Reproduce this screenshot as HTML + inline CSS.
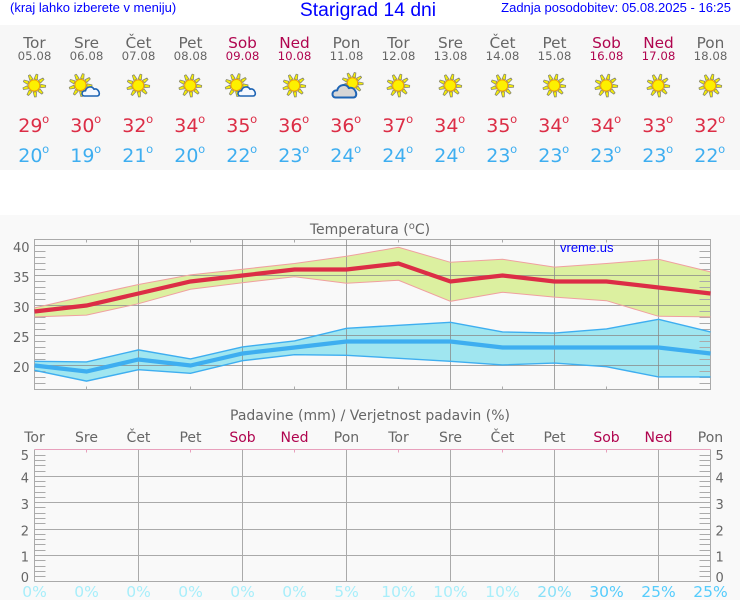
<!DOCTYPE html>
<html lang="sl">
<head>
<meta charset="utf-8">
<title>Starigrad 14 dni</title>
<style>
html,body{margin:0;padding:0;background:#fff;width:740px;height:600px;overflow:hidden}
svg{display:block}
.h{font-family:"Liberation Sans",sans-serif;fill:#0000ff}
.d{font-family:"DejaVu Sans",sans-serif}
</style>
</head>
<body>
<svg id="chart" xmlns="http://www.w3.org/2000/svg" width="740" height="600" viewBox="0 0 740 600">
  <rect x="0" y="25" width="740" height="145" fill="#f7f7f7"/>
  <rect x="0" y="215" width="740" height="385" fill="#f9f9f9"/>
  <text class="h" x="10" y="12" font-size="13">(kraj lahko izberete v meniju)</text>
  <text class="h" x="368" y="16" font-size="19.3" text-anchor="middle">Starigrad 14 dni</text>
  <text class="h" x="731" y="12" font-size="13" text-anchor="end">Zadnja posodobitev: 05.08.2025 - 16:25</text>
  <text class="d" x="370" y="234" font-size="14" fill="#666" text-anchor="middle">Temperatura (<tspan font-size="10" dy="-5">o</tspan><tspan dy="5">C)</tspan></text>
  <text class="d" x="370" y="420" font-size="14" fill="#666" text-anchor="middle">Padavine (mm) / Verjetnost padavin (%)</text>
  <g id="forecast"></g>
  <g id="temp"></g>
  <text class="h" x="560" y="252" font-size="13">vreme.us</text>
  <g id="rain"></g>
</svg>
<script>
const days = ['Tor','Sre','Čet','Pet','Sob','Ned','Pon','Tor','Sre','Čet','Pet','Sob','Ned','Pon'];
const dates = ['05.08','06.08','07.08','08.08','09.08','10.08','11.08','12.08','13.08','14.08','15.08','16.08','17.08','18.08'];
const icons = ['sun','suncloud','sun','sun','suncloud','sun','cloudsun','sun','sun','sun','sun','sun','sun','sun'];
const maxTemp = [29,30,32,34,35,36,36,37,34,35,34,34,33,32];
const minTemp = [20,19,21,20,22,23,24,24,24,23,23,23,23,22];
const maxUpper = [29.6,31.6,33.5,35.1,36.05,37,38.2,39.7,37.2,37.7,36.4,37,37.7,35.6];
const maxLower = [28.1,28.4,30.3,32.7,33.8,34.8,33.7,34.2,30.7,32.2,31.4,30.8,28.2,28.1];
const minUpper = [20.7,20.6,22.6,21.1,23.1,24.1,26.2,26.7,27.2,25.6,25.4,26.1,27.7,25.6];
const minLower = [19.2,17.4,19.3,18.7,20.8,21.8,21.7,21.2,20.7,20.1,20.4,19.8,18.1,18.1];
const tempTicks = [20,25,30,35,40];
const rainTicks = [0,1,2,3,4,5];
const rainAmount = [0,0,0,0,0,0,0,0,0,0,0,0,0,0];
const rainProb = [0,0,0,0,0,0,5,10,10,10,20,30,25,25];

const NS = 'http://www.w3.org/2000/svg';
const GRID = '#aaaaaa';
function xAt(i){ return 34.5 + 52 * i; }
function yTemp(v){ return 365.5 - (v - 20) * 6; }
function yRain(v){ return Math.round(581.4 - 26.4 * v) + 0.5; }
function isWeekend(i){ return days[i] === 'Sob' || days[i] === 'Ned'; }
function mk(parent, tag, attrs, txt){
  const el = document.createElementNS(NS, tag);
  for (const k in attrs) el.setAttribute(k, attrs[k]);
  if (txt !== undefined) el.textContent = txt;
  parent.appendChild(el);
  return el;
}
function pts(vals, yf){ return vals.map((v, i) => xAt(i) + ',' + yf(v)).join(' '); }

function drawSun(g, cx, cy, r){
  for (let k = 0; k < 9; k++) {
    const a = -Math.PI / 2 + (k + 0.35) * 2 * Math.PI / 9;
    const c = Math.cos(a), s = Math.sin(a);
    const w1 = r * 0.3, w2 = r * 0.16, r1 = r * 1.15, r2 = r * 2.05;
    const p = [[cx + c*r1 - s*w1, cy + s*r1 + c*w1],[cx + c*r2 - s*w2, cy + s*r2 + c*w2],[cx + c*r2 + s*w2, cy + s*r2 - c*w2],[cx + c*r1 + s*w1, cy + s*r1 - c*w1]];
    const ray = mk(g, 'polygon', {points: p.map(q => q.join(',')).join(' '), fill:'#f8f000', stroke:'#8a8a70', 'stroke-width':0.8, 'stroke-linejoin':'round'});
    
    
  }
  const disc = mk(g, 'circle', {cx, cy, r, fill:'#fdf000', stroke:'#f0a000', 'stroke-width':1});
  
  
}
function drawCloud(g, x, y, s, fill, sw){
  const d = `M${x-9*s},${y+5*s} C${x-13*s},${y+5*s} ${x-13*s},${y-2*s} ${x-7.5*s},${y-1.5*s} C${x-6.5*s},${y-7*s} ${x+1*s},${y-8*s} ${x+3*s},${y-3.5*s} C${x+9*s},${y-6*s} ${x+12.5*s},${y+5*s} ${x+7*s},${y+5*s} Z`;
  const c = mk(g, 'path', {d, fill, stroke:'#1e64b4', 'stroke-width':sw, 'stroke-linejoin':'round'});
  
  
}

const fc = document.getElementById('forecast');
days.forEach((d, i) => {
  const x = xAt(i);
  const col = isWeekend(i) ? '#b0054f' : '#666666';
  const g = mk(fc, 'g', {});
  
  
  const a = mk(g, 'text', {class:'d', x, y:48, 'font-size':15.3, fill:col, 'text-anchor':'middle'}, d);
  
  
  const b = mk(g, 'text', {class:'d', x, y:60, 'font-size':11.8, fill:col, 'text-anchor':'middle'}, dates[i]);
  
  
  const ic = mk(g, 'g', {});
  
  
  if (icons[i] === 'sun') {
    drawSun(ic, x - 0.3, 85.5, 5.6);
  } else if (icons[i] === 'suncloud') {
    drawSun(ic, x - 6, 85, 5.6);
    drawCloud(ic, x + 5, 92, 0.8, '#f4f8ff', 1.6);
  } else {
    drawSun(ic, x + 6, 83, 5.2);
    drawCloud(ic, x - 1, 92, 1.1, '#d6d6d6', 2);
  }
  const hi = mk(g, 'text', {class:'d', x:x-16.2, y:132, 'font-size':19, fill:'#dc2d46'}, maxTemp[i]);
  
  
  const hd = mk(g, 'text', {class:'d', x:x+7.6, y:123, 'font-size':11.5, fill:'#dc2d46'}, 'o');
  
  
  const lo = mk(g, 'text', {class:'d', x:x-16.2, y:162, 'font-size':19, fill:'#3eaef0'}, minTemp[i]);
  
  
  const ld = mk(g, 'text', {class:'d', x:x+7.6, y:153, 'font-size':11.5, fill:'#3eaef0'}, 'o');
  
  
});

/* temperature chart */
const tg = document.getElementById('temp');
const L = xAt(0), R = xAt(13);
const hotBand = mk(tg, 'polygon', {points: pts(maxUpper, yTemp) + ' ' + maxLower.map((v, i) => xAt(i) + ',' + yTemp(v)).reverse().join(' '), fill:'#dcf0a0'});


const coldBand = mk(tg, 'polygon', {points: pts(minUpper, yTemp) + ' ' + minLower.map((v, i) => xAt(i) + ',' + yTemp(v)).reverse().join(' '), fill:'#a0e6f0'});



for (let v = 17; v <= 40; v++) {
  const y = yTemp(v);
  if (tempTicks.includes(v)) {
    const ln = mk(tg, 'line', {x1:L, x2:R, y1:y, y2:y, stroke:'#888', 'stroke-opacity':0.75});
    
    
    const t = mk(tg, 'text', {class:'d', x:29.5, y:y+6.3, 'font-size':13, fill:'#666', 'text-anchor':'end'}, v);
    
    
  } else {
    const a = mk(tg, 'line', {x1:L, x2:L+11, y1:y, y2:y, stroke:GRID});
    
    
    const b = mk(tg, 'line', {x1:R-11, x2:R, y1:y, y2:y, stroke:GRID});
    
    
  }
}
days.forEach((d, i) => {
  const x = xAt(i);
  if (i % 2 === 0 && i > 0) {
    const v = mk(tg, 'line', {x1:x, x2:x, y1:239.5, y2:389.5, stroke:'#888', 'stroke-opacity':0.75});
    
    
  } else if (i % 2 === 1) {
    const a = mk(tg, 'line', {x1:x, x2:x, y1:239.5, y2:242.5, stroke:GRID});
    
    
    const b = mk(tg, 'line', {x1:x, x2:x, y1:386.5, y2:389.5, stroke:GRID});
    
    
  }
});
const frame = mk(tg, 'rect', {x:L, y:239.5, width:R-L, height:150, fill:'none', stroke:GRID});



const hu = mk(tg, 'polyline', {points:pts(maxUpper, yTemp), fill:'none', stroke:'#f0a0a0', 'stroke-width':1});


const hl = mk(tg, 'polyline', {points:pts(maxLower, yTemp), fill:'none', stroke:'#f0a0a0', 'stroke-width':1});


const cu = mk(tg, 'polyline', {points:pts(minUpper, yTemp), fill:'none', stroke:'#3eaef0', 'stroke-width':1.4});


const cl = mk(tg, 'polyline', {points:pts(minLower, yTemp), fill:'none', stroke:'#3eaef0', 'stroke-width':1.4});


const hm = mk(tg, 'polyline', {points:pts(maxTemp, yTemp), fill:'none', stroke:'#dc2d46', 'stroke-width':4.2});


const cm = mk(tg, 'polyline', {points:pts(minTemp, yTemp), fill:'none', stroke:'#3eaef0', 'stroke-width':4.2});



/* precipitation chart */
const rg = document.getElementById('rain');
const rainLabelY = {0:582, 1:561.5, 2:535.5, 3:509, 4:482.5, 5:460};
for (let k = 1; k < 25; k++) {
  const v = k / 5;
  const y = Math.round(581.4 - 26.4 * v) + 0.5;
  if (k % 5 === 0) continue;
  const a = mk(rg, 'line', {x1:L, x2:L+11, y1:y, y2:y, stroke:GRID});
  
  
  const b = mk(rg, 'line', {x1:R-11, x2:R, y1:y, y2:y, stroke:GRID});
  
  
}
rainTicks.forEach(v => {
  const y = yRain(v);
  if (v > 0 && v < 5) {
    const ln = mk(rg, 'line', {x1:L, x2:R, y1:y, y2:y, stroke:GRID});
    
    
  }
  const a = mk(rg, 'text', {class:'d', x:29, y:rainLabelY[v], 'font-size':13, fill:'#666', 'text-anchor':'end'}, v);
  
  
  const b = mk(rg, 'text', {class:'d', x:715.5, y:rainLabelY[v], 'font-size':13, fill:'#666'}, v);
  
  
});
days.forEach((d, i) => {
  const x = xAt(i);
  if (i % 2 === 0 && i > 0) {
    const v = mk(rg, 'line', {x1:x, x2:x, y1:449.5, y2:581.5, stroke:GRID});
    
    
  } else if (i % 2 === 1) {
    const t = mk(rg, 'line', {x1:x, x2:x, y1:449.5, y2:452.5, stroke:'#e8a0bc'});
    
    
  }
  const lab = mk(rg, 'text', {class:'d', x, y:442, 'font-size':14, fill:isWeekend(i) ? '#b0054f' : '#666', 'text-anchor':'middle'}, d);
  
  
  const h = rainAmount[i] * 26.4;
  const bar = mk(rg, 'rect', {x:x-10, y:581.5-h, width:20, height:h, fill:'#3eaef0'});
  
  
  const p = rainProb[i];
  const pc = p >= 25 ? '#55ccfc' : p >= 20 ? '#88e0f8' : '#a8eefa';
  const pt = mk(rg, 'text', {class:'d', x, y:597, 'font-size':15.5, fill:pc, 'text-anchor':'middle'}, p + '%');
  
  
});
const lft = mk(rg, 'line', {x1:L, x2:L, y1:449.5, y2:581.5, stroke:GRID});


const rgt = mk(rg, 'line', {x1:R, x2:R, y1:449.5, y2:581.5, stroke:GRID});


const bot = mk(rg, 'line', {x1:L, x2:R, y1:581.5, y2:581.5, stroke:GRID});


const top5 = mk(rg, 'line', {x1:L, x2:R, y1:449.5, y2:449.5, stroke:'#e8a0bc'});


</script>
</body>
</html>
